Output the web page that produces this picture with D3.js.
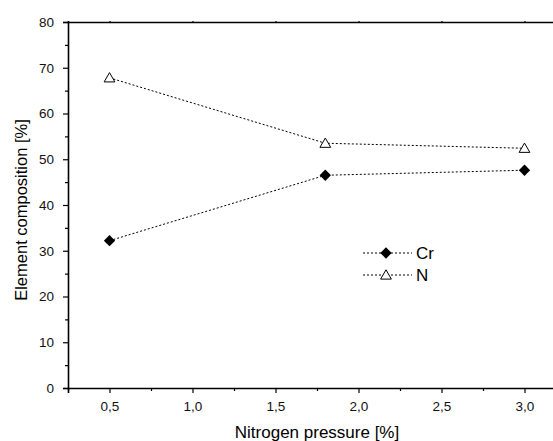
<!DOCTYPE html>
<html>
<head>
<meta charset="UTF-8">
<script src="https://d3js.org/d3.v7.min.js"></script>
<style>
  body { margin: 0; background: #fff; }
  svg { font-family: "Liberation Sans", Arial, sans-serif; }
</style>
</head>
<body>
<div id="chart"></div>
<script>
const pressure = [0.5, 1.8, 3.0];
const crValues = [32.2, 46.5, 47.6];
const nValues = [67.8, 53.5, 52.4];
const xTicks = [0.5, 1.0, 1.5, 2.0, 2.5, 3.0];
const yTicks = [0, 10, 20, 30, 40, 50, 60, 70, 80];

const width = 553, height = 441;

const svg = d3.select("#chart").append("svg")
  .attr("width", width).attr("height", height);

// x range runs off the right edge like the original
const x = d3.scaleLinear().domain([0.25, 3.25]).range([68, 68 + 3 * 166]);
const y = d3.scaleLinear().domain([0, 80]).range([388, 22]);

const fmt = d => d3.format(".1f")(d).replace(".", ",");

// bottom axis
svg.append("g").attr("transform", "translate(0,388)")
  .call(d3.axisBottom(x).tickValues(xTicks).tickSize(5).tickPadding(8).tickFormat(fmt));
svg.append("g").attr("transform", "translate(0,388)")
  .call(d3.axisBottom(x).tickValues(d3.range(0.25, 3.3, 0.5)).tickSize(3).tickFormat(""))
  .select(".domain").remove();

// left axis
svg.append("g").attr("transform", "translate(68,0)")
  .call(d3.axisLeft(y).tickValues(yTicks).tickSize(5).tickPadding(9));
svg.append("g").attr("transform", "translate(68,0)")
  .call(d3.axisLeft(y).tickValues(d3.range(5, 80, 10)).tickSize(3).tickFormat(""))
  .select(".domain").remove();

// top frame
svg.append("g").attr("transform", "translate(0,22)")
  .call(d3.axisTop(x).tickValues(xTicks).tickSize(1).tickFormat(""));

svg.selectAll(".domain").attr("stroke", "#000").attr("stroke-width", 1.6);
svg.selectAll(".tick line").attr("stroke", "#000").attr("stroke-width", 1.2);
svg.selectAll(".tick text").style("font-size", "13.5px").attr("fill", "#111")
  .style("font-family", "Liberation Sans, Arial, sans-serif");

const line = d3.line().x((d, i) => x(pressure[i])).y(d => y(d));

[crValues, nValues].forEach(vals => {
  svg.append("path").attr("d", line(vals))
    .attr("fill", "none").attr("stroke", "#000").attr("stroke-width", 1)
    .attr("stroke-dasharray", "2,2");
});

const diamond = d3.symbol().type(d3.symbolSquare).size(64);
const tri = d3.symbol().type(d3.symbolTriangle).size(50);

svg.selectAll(".cr").data(crValues).enter().append("path")
  .attr("d", diamond)
  .attr("transform", (d, i) => `translate(${x(pressure[i])},${y(d)}) rotate(45)`)
  .attr("fill", "#000");
svg.selectAll(".n").data(nValues).enter().append("path")
  .attr("d", tri)
  .attr("transform", (d, i) => `translate(${x(pressure[i])},${y(d) + 1})`)
  .attr("fill", "#fff").attr("stroke", "#000").attr("stroke-width", 1);

// legend
const legend = [{name: "Cr", sym: diamond, fill: "#000", rot: 45}, {name: "N", sym: tri, fill: "#fff", rot: 0}];
legend.forEach((l, i) => {
  const ly = 253 + i * 22;
  svg.append("line").attr("x1", 363).attr("x2", 412).attr("y1", ly).attr("y2", ly)
    .attr("stroke", "#000").attr("stroke-dasharray", "2,2");
  svg.append("path").attr("d", l.sym)
    .attr("transform", `translate(386,${ly + (i ? 1 : 0)}) rotate(${l.rot})`)
    .attr("fill", l.fill).attr("stroke", "#000").attr("stroke-width", i ? 1 : 0);
  svg.append("text").attr("x", 416).attr("y", ly + 6).style("font-size", "17px").text(l.name);
});

// axis titles
svg.append("text").attr("x", 317).attr("y", 438).attr("text-anchor", "middle")
  .style("font-size", "17px").text("Nitrogen pressure [%]");
svg.append("text").attr("transform", "translate(27,210) rotate(-90)")
  .attr("text-anchor", "middle").style("font-size", "16.5px").text("Element composition [%]");
</script>
</body>
</html>
